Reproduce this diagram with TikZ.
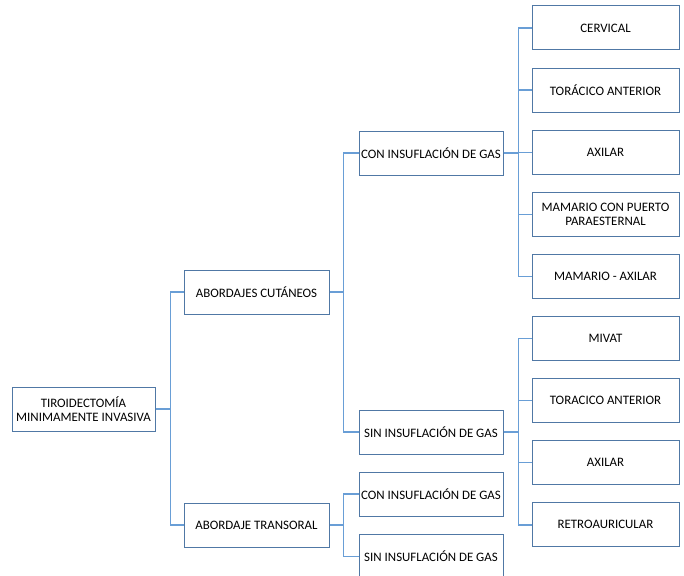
\documentclass[tikz,border=0pt]{standalone}
\usepackage{fontspec}
\setmainfont{Carlito}
\usetikzlibrary{positioning}
\definecolor{boxline}{RGB}{80,120,165}
\definecolor{linkline}{RGB}{105,158,214}

\begin{document}
\begin{tikzpicture}[x=1pt,y=1pt,node distance=62.1pt,
	main node/.style={rectangle,draw=boxline,line width=1pt,fill=white,
		minimum width=145pt,minimum height=44pt,inner sep=0pt,align=center,
		font=\fontsize{12.9}{14}\selectfont},
	link/.style={draw=linkline,line width=1.4pt}]
	
	\useasboundingbox (0,0) rectangle (684,-575);
	
	% right column
	\node[main node,minimum width=147pt] (cerv) at (605.5,-28) {CERVICAL};
	\node[main node,minimum width=147pt] (tor1) [below of=cerv] {TORÁCICO ANTERIOR};
	\node[main node,minimum width=147pt] (axi1) [below of=tor1] {AXILAR};
	\node[main node,minimum width=147pt] (mam) [below of=axi1] {MAMARIO CON PUERTO\\PARAESTERNAL};
	\node[main node,minimum width=147pt] (mamax) [below of=mam] {MAMARIO - AXILAR};
	\node[main node,minimum width=147pt] (mivat) [below of=mamax] {MIVAT};
	\node[main node,minimum width=147pt] (tor2) [below of=mivat] {TORACICO ANTERIOR};
	\node[main node,minimum width=147pt] (axi2) [below of=tor2] {AXILAR};
	\node[main node,minimum width=147pt] (retro) [below of=axi2] {RETROAURICULAR};
	
	% middle column
	\node[main node,minimum width=144pt] (con1) at (431,-153) {CON INSUFLACIÓN DE GAS};
	\node[main node,minimum width=144pt] (sin1) at (431,-432) {SIN INSUFLACIÓN DE GAS};
	\node[main node,minimum width=144pt] (con2) [below of=sin1] {CON INSUFLACIÓN DE GAS};
	\node[main node,minimum width=144pt] (sin2) [below of=con2] {SIN INSUFLACIÓN DE GAS};
	
	% left columns
	\node[main node] (cut) at (256.5,-292) {ABORDAJES CUTÁNEOS};
	\node[main node] (trans) at (256.5,-525) {ABORDAJE TRANSORAL};
	\node[main node,minimum width=143pt] (root) at (83.5,-409) {TIROIDECTOMÍA\\MINIMAMENTE INVASIVA};
	
	% connectors
	\path[link] (root.east) -- ++(15,0) |- (cut.west)
	(root.east) -- ++(15,0) |- (trans.west);
	\path[link] (cut.east) -- ++(14,0) |- (con1.west)
	(cut.east) -- ++(14,0) |- (sin1.west);
	\path[link] (trans.east) -- ++(14,0) |- (con2.west)
	(trans.east) -- ++(14,0) |- (sin2.west);
	\foreach \n in {cerv,tor1,axi1,mam,mamax}
	\path[link] (con1.east) -- ++(15,0) |- (\n.west);
	\foreach \n in {mivat,tor2,axi2,retro}
	\path[link] (sin1.east) -- ++(15,0) |- (\n.west);
\end{tikzpicture}
\end{document}
